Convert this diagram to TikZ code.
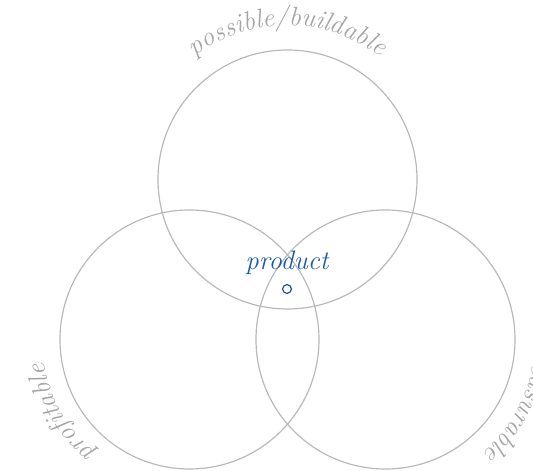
\documentclass[tikz,border=0pt]{standalone}
\usetikzlibrary{decorations.text}
\definecolor{ringgray}{RGB}{185,185,185}
\definecolor{labelgray}{RGB}{165,165,165}
\definecolor{productblue}{RGB}{30,90,170}
\newcommand{\ringfont}{\fontsize{19}{21}\selectfont\itshape}
\tikzset{
  ring/.style={draw=ringgray, line width=0.85pt},
  ringlabel/.style={decorate, decoration={text along path, text align=center,
      text color=labelgray, text={|\ringfont|#1}}}
}
\begin{document}
\begin{tikzpicture}
    \useasboundingbox (0, 0) rectangle (13.325, 11.775) ;
    \coordinate (build) at (7.1875, 7.2875) ;
    \coordinate (profit) at (4.7375, 3.2875) ;
    \coordinate (measure) at (9.6375, 3.2875) ;
    \draw[ring] (build) circle (3.2375) ;
    \draw[ring] (profit) circle (3.2375) ;
    \draw[ring] (measure) circle (3.2375) ;
    \path[ringlabel={possible/buildable}] ([shift={(160:3.85)}]build) arc (160:20:3.85) ;
    \path[ringlabel={profitable}] ([shift={(270:3.68)}]profit) arc (270:150:3.68) ;
    \path[ringlabel={measurable}] ([shift={(395:3.75)}]measure) arc (395:275:3.75) ;
    \draw[productblue, line width=0.9pt] (7.175, 4.55) coordinate (sweet) circle (0.11) ;
    \node[anchor=base, text=productblue, font=\ringfont] (product) at ([yshift=0.48cm]sweet) {product} ;
  \end{tikzpicture}
\end{document}
